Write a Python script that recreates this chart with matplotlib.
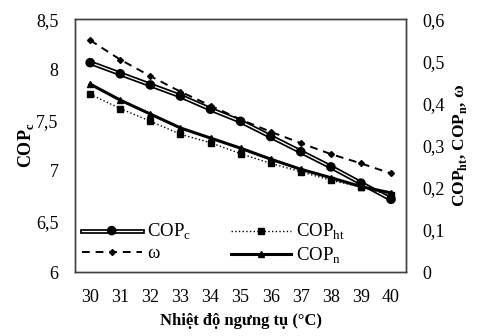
import matplotlib
matplotlib.use("Agg")
import matplotlib.pyplot as plt
import matplotlib.patheffects as pe
import matplotlib.ticker as ticker

plt.rcParams['font.family'] = ['Liberation Serif', 'DejaVu Serif']
plt.rcParams['mathtext.fontset'] = 'custom'
plt.rcParams['mathtext.rm'] = 'Liberation Serif'
plt.rcParams['mathtext.bf'] = 'Liberation Serif:bold'

# condensing temperature (°C)
t_cond = [30, 31, 32, 33, 34, 35, 36, 37, 38, 39, 40]

# left axis
cop_c = [8.07, 7.96, 7.85, 7.74, 7.61, 7.49, 7.34, 7.19, 7.04, 6.88, 6.72]
# right axis
cop_ht = [0.422, 0.388, 0.358, 0.327, 0.307, 0.281, 0.258, 0.238, 0.218, 0.202, 0.182]
cop_n = [0.446, 0.408, 0.375, 0.342, 0.318, 0.294, 0.268, 0.244, 0.224, 0.203, 0.188]
omega = [0.550, 0.504, 0.465, 0.428, 0.395, 0.362, 0.333, 0.306, 0.280, 0.258, 0.234]


def comma(v, pos):
    s = ('%.1f' % v).rstrip('0').rstrip('.')
    return s.replace('.', ',')


fig, ax = plt.subplots(figsize=(4.91, 3.36), dpi=100)
fig.subplots_adjust(left=0.153, right=0.827, bottom=0.19, top=0.943)
ax2 = ax.twinx()

# double line for COPc
l1, = ax.plot(t_cond, cop_c, color='white', lw=0.9, marker='o', ms=3.5,
              mfc='black', mec='black', label=r'COP$_\mathregular{c}$',
              path_effects=[pe.Stroke(linewidth=3.4, foreground='black'), pe.Normal()],
              zorder=3)
l2, = ax2.plot(t_cond, omega, color='black', lw=1.4, ls=(0, (4, 3)), marker='D',
               ms=3, label='ω', zorder=3)
l3, = ax2.plot(t_cond, cop_ht, color='black', lw=1.0, ls=':', marker='s', ms=5,
               label=r'COP$_\mathregular{ht}$', zorder=3)
l4, = ax2.plot(t_cond, cop_n, color='black', lw=2.2, marker='^', ms=4,
               label=r'COP$_\mathregular{n}$', zorder=3)

ax.set_xlim(29.5, 40.5)
ax.set_ylim(6, 8.5)
ax2.set_ylim(0, 0.6)
ax.xaxis.set_major_locator(ticker.MultipleLocator(1))
ax.yaxis.set_major_locator(ticker.MultipleLocator(0.5))
ax2.yaxis.set_major_locator(ticker.MultipleLocator(0.1))
ax.yaxis.set_major_formatter(ticker.FuncFormatter(comma))
ax2.yaxis.set_major_formatter(ticker.FuncFormatter(comma))

ax.tick_params(axis='both', length=0, labelsize=13, pad=12)
ax2.tick_params(axis='y', length=0, labelsize=13, pad=12)
for a in (ax, ax2):
    for s in a.spines.values():
        s.set_color('#404040')
        s.set_linewidth(1.0)

ax.set_xlabel('Nhiệt độ ngưng tụ (°C)', fontsize=12, fontweight='bold', labelpad=5)
ax.set_ylabel(r'COP$_\mathregular{c}$', fontsize=13, fontweight='bold', labelpad=0)
ax2.set_ylabel(r'COP$_\mathregular{ht}$, COP$_\mathregular{n}$, ω', fontsize=12.5,
               fontweight='bold', labelpad=4)

ax.legend(handles=[l1, l2, l3, l4], ncol=2, loc='lower left', frameon=False,
          fontsize=13.5, handlelength=3.2, handletextpad=0.3, columnspacing=2.1,
          labelspacing=0.15, borderaxespad=0.0, borderpad=0.35)

fig.savefig('out.png', dpi=100)
